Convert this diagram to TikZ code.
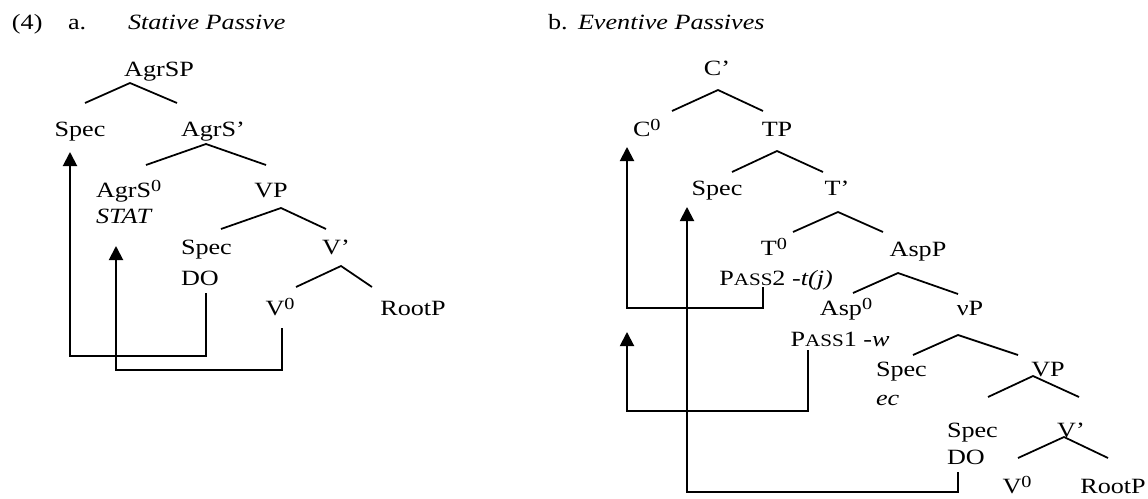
\documentclass[tikz,border=0pt]{standalone}
\usepackage{fontspec}
\setmainfont{Liberation Serif}[FakeStretch=1.2]
\usetikzlibrary{arrows.meta,calc}
\definecolor{ink}{HTML}{000000}
\tikzset{
  >={Triangle[length=2.8mm,width=2.8mm]},
  cat/.style={inner sep=0pt, outer sep=0pt, text=ink,
    font=\fontsize{12.4}{15}\selectfont, anchor=base},
  catl/.style={cat, anchor=base west},
  head/.style={cat, anchor=base west},
  branch/.style={draw=ink, line width=1pt},
  mv/.style={->, draw=ink, line width=1.1pt},
}
\newcommand{\smallcp}[1]{{\fontsize{10}{10}\selectfont #1}}
\newcommand{\supz}[1]{\raisebox{3.4pt}{\fontsize{9.6}{10}\selectfont #1}}

\begin{document}
\begin{tikzpicture}
  \useasboundingbox (0,0) rectangle (22.96,-9.96);
  % ======================= (a) stative passive =======================
  \begin{scope}
    \node[head] (num) at (0.24,-0.60) {(4)};
    \node[head] (lbla) at (1.36,-0.60) {a.};
    \node[head] (titlea) at (2.56,-0.60) {\textit{Stative Passive}};
    \node[cat] (agrsp) at (3.18,-1.54) {AgrSP};
    \node[cat] (speca) at (1.60,-2.72) {Spec};
    \node[cat] (agrsbar) at (4.26,-2.72) {AgrS’};
    \node[catl] (agrs0) at (1.92,-3.94) {AgrS\supz{0}};
    \node[catl] (stat) at (1.92,-4.46) {\textit{STAT}};
    \node[cat] (vpa) at (5.42,-3.94) {VP};
    \node[catl] (specdo) at (3.62,-5.08) {Spec};
    \node[catl] (doa) at (3.62,-5.70) {DO};
    \node[cat] (vbara) at (6.72,-5.08) {V’};
    \node[cat] (v0a) at (5.60,-6.30) {V\supz{0}};
    \node[cat] (rootpa) at (8.26,-6.30) {RootP};
    % branches
    \draw[branch] ([shift={(0.10,0.66)}]speca.base) -- ([shift={(-0.58,-0.12)}]agrsp.base)
      -- ([shift={(-0.72,0.66)}]agrsbar.base);
    \draw[branch] ([shift={(1.00,0.64)}]agrs0.base west) -- ([shift={(-0.14,-0.16)}]agrsbar.base)
      -- ([shift={(-0.10,0.64)}]vpa.base);
    \draw[branch] ([shift={(0.80,0.50)}]specdo.base west) -- ([shift={(0.20,-0.22)}]vpa.base)
      -- ([shift={(-0.20,0.50)}]vbara.base);
    \draw[branch] ([shift={(0.32,0.56)}]v0a.base) -- ([shift={(0.10,-0.24)}]vbara.base)
      -- ([shift={(-0.82,0.56)}]rootpa.base);
    % movement
    \draw[mv] ([shift={(0.50,-0.16)}]doa.base west) -- ++(0,-1.26)
      -| ([shift={(-0.20,-0.32)}]speca.base);
    \draw[mv] ([shift={(0.04,-0.26)}]v0a.base) -- ++(0,-0.84)
      -| ([shift={(0.40,-0.46)}]stat.base west);
  \end{scope}

  % ======================= (b) eventive passives =======================
  \begin{scope}
    \node[head] (lblb) at (10.96,-0.60) {b.};
    \node[head] (titleb) at (11.56,-0.60) {\textit{Eventive Passives}};
    \node[cat] (cbar) at (14.34,-1.52) {C’};
    \node[catl] (c0) at (12.66,-2.72) {C\supz{0}};
    \node[cat] (tp) at (15.54,-2.72) {TP};
    \node[cat] (specb) at (14.34,-3.90) {Spec};
    \node[cat] (tbar) at (16.74,-3.90) {T’};
    \node[cat] (t0) at (15.48,-5.10) {T\supz{0}};
    \node[cat] (pass2) at (15.52,-5.70) {P\smallcp{ASS}2 -\textit{t(j)}};
    \node[cat] (aspp) at (18.36,-5.12) {AspP};
    \node[cat] (asp0) at (16.92,-6.30) {Asp\supz{0}};
    \node[cat] (pass1) at (16.80,-6.92) {P\smallcp{ASS}1 -\textit{w}};
    \node[cat] (vpsmall) at (19.40,-6.30) {νP};
    \node[catl] (specec) at (17.52,-7.52) {Spec};
    \node[catl] (ec) at (17.52,-8.10) {\textit{ec}};
    \node[cat] (vpb) at (20.96,-7.52) {VP};
    \node[catl] (specdob) at (18.94,-8.74) {Spec};
    \node[catl] (dob) at (18.94,-9.28) {DO};
    \node[cat] (vbarb) at (21.42,-8.74) {V’};
    \node[cat] (v0b) at (20.34,-9.86) {V\supz{0}};
    \node[cat] (rootpb) at (22.26,-9.86) {RootP};
    \coordinate (landing) at (12.54,-6.64);
    % branches
    \draw[branch] ([shift={(0.78,0.50)}]c0.base west) -- ([shift={(0.02,-0.28)}]cbar.base)
      -- ([shift={(-0.28,0.50)}]tp.base);
    \draw[branch] ([shift={(0.30,0.46)}]specb.base) -- ([shift={(0,-0.30)}]tp.base)
      -- ([shift={(-0.28,0.46)}]tbar.base);
    \draw[branch] ([shift={(0.38,0.46)}]t0.base) -- ([shift={(0.02,-0.34)}]tbar.base)
      -- ([shift={(-0.70,0.48)}]aspp.base);
    \draw[branch] ([shift={(0.14,0.44)}]asp0.base) -- ([shift={(-0.40,-0.34)}]aspp.base)
      -- ([shift={(-0.24,0.42)}]vpsmall.base);
    \draw[branch] ([shift={(0.74,0.42)}]specec.base west) -- ([shift={(-0.24,-0.40)}]vpsmall.base)
      -- ([shift={(-0.60,0.42)}]vpb.base);
    \draw[branch] ([shift={(0.82,0.80)}]specdob.base west) -- ([shift={(-0.30,0)}]vpb.base)
      -- ([shift={(0.16,0.80)}]vbarb.base);
    \draw[branch] ([shift={(0.02,0.70)}]v0b.base) -- ([shift={(-0.14,0)}]vbarb.base)
      -- ([shift={(-0.10,0.70)}]rootpb.base);
    % movement
    \draw[mv] ([shift={(-0.26,-0.04)}]pass2.base) -- ++(0,-0.42)
      -| ([shift={(-0.12,-0.22)}]c0.base west);
    \draw[mv] ([shift={(-0.64,-0.08)}]pass1.base) -- ++(0,-1.22) -| (landing);
    \draw[mv] ([shift={(0.22,-0.16)}]dob.base west) -- ++(0,-0.40)
      -| ([shift={(-0.60,-0.24)}]specb.base);
  \end{scope}
\end{tikzpicture}
\end{document}
